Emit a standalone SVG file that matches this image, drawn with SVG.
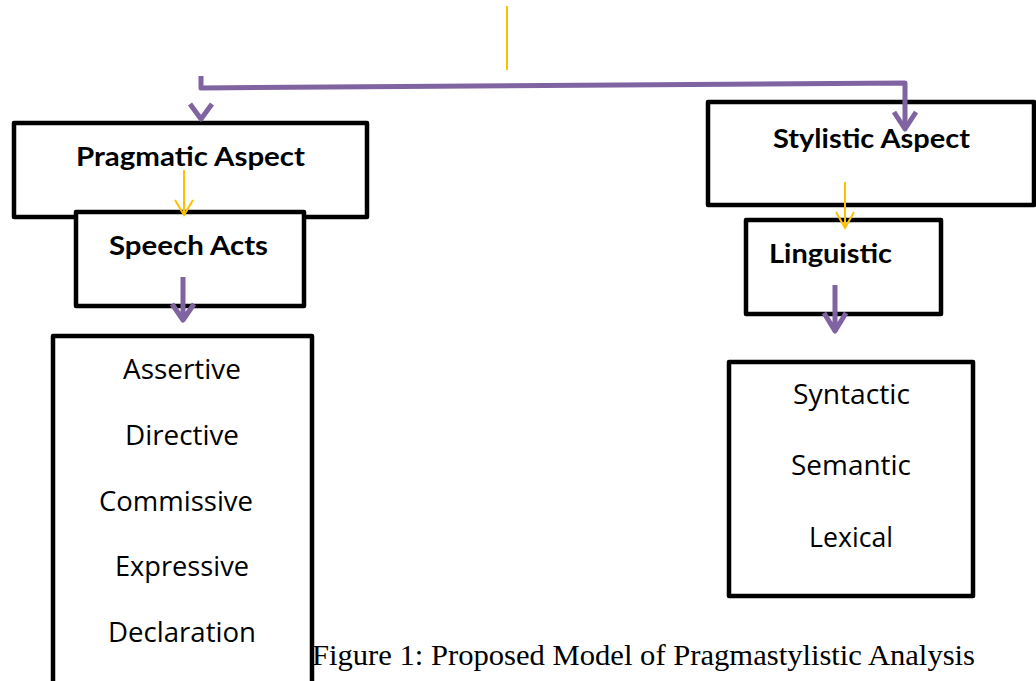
<svg xmlns="http://www.w3.org/2000/svg" width="1036" height="681" viewBox="0 0 1036 681">
<style>
.box{fill:#fff;stroke:#000;stroke-width:4.5;stroke-linejoin:round}
.b{font-family:Lato,"Open Sans",sans-serif;font-weight:bold;font-size:26px;fill:#000}
.r{font-family:"Open Sans",Lato,sans-serif;font-size:27px;fill:#000}
.p{fill:none;stroke:#8064A2;stroke-width:5;stroke-linejoin:round}
.o{fill:none;stroke:#FFC000;stroke-width:2}
.cap{font-family:"Liberation Serif",serif;font-size:30px;fill:#000}
</style>
<rect width="1036" height="681" fill="#fff"/>
<g id="pragmatic"><rect class="box" x="14" y="123" width="353" height="94"/><text class="b" x="76" y="166" textLength="229" lengthAdjust="spacingAndGlyphs">Pragmatic Aspect</text></g>
<g id="speech-acts"><rect class="box" x="76" y="212" width="228" height="94"/><text class="b" x="109" y="255" textLength="159" lengthAdjust="spacingAndGlyphs">Speech Acts</text></g>
<g id="acts-list"><rect class="box" x="53" y="336" width="259" height="360"/>
<text class="r" x="123" y="379" textLength="118" lengthAdjust="spacingAndGlyphs">Assertive</text>
<text class="r" x="125" y="445" textLength="114" lengthAdjust="spacingAndGlyphs">Directive</text>
<text class="r" x="99" y="511" textLength="154" lengthAdjust="spacingAndGlyphs">Commissive</text>
<text class="r" x="115" y="576" textLength="134" lengthAdjust="spacingAndGlyphs">Expressive</text>
<text class="r" x="108" y="642" textLength="148" lengthAdjust="spacingAndGlyphs">Declaration</text></g>
<g id="stylistic"><rect class="box" x="708" y="102" width="326" height="103"/><text class="b" x="773" y="148" textLength="197" lengthAdjust="spacingAndGlyphs">Stylistic Aspect</text></g>
<g id="linguistic"><rect class="box" x="746" y="220" width="195" height="94"/><text class="b" x="769" y="263" textLength="123" lengthAdjust="spacingAndGlyphs">Linguistic</text></g>
<g id="ling-list"><rect class="box" x="729" y="362" width="244" height="234"/>
<text class="r" x="793" y="404" textLength="117" lengthAdjust="spacingAndGlyphs">Syntactic</text>
<text class="r" x="791" y="475" textLength="120" lengthAdjust="spacingAndGlyphs">Semantic</text>
<text class="r" x="809" y="547" textLength="84" lengthAdjust="spacingAndGlyphs">Lexical</text></g>
<g id="connectors">
<line class="o" x1="507" y1="6" x2="507" y2="70"/>
<path class="p" d="M201,76 V88 L905,83 V128"/>
<path class="p" d="M190,104 L201,119 L212,104"/>
<path class="p" d="M894,112 L905,129 L916,112"/>
<path class="p" d="M183,277 V320 M172,304 L183,320 L194,304"/>
<path class="p" d="M835,285 V331 M824,313 L835,331 L846,313"/>
<path class="o" d="M184,170 V215 M175,200 L184,215 L193,200"/>
<path class="o" d="M845,182 V228 M836,212 L845,228 L854,212"/>
</g>
<text class="cap" x="312" y="665" textLength="663" lengthAdjust="spacingAndGlyphs">Figure 1: Proposed Model of Pragmastylistic Analysis</text>
</svg>
